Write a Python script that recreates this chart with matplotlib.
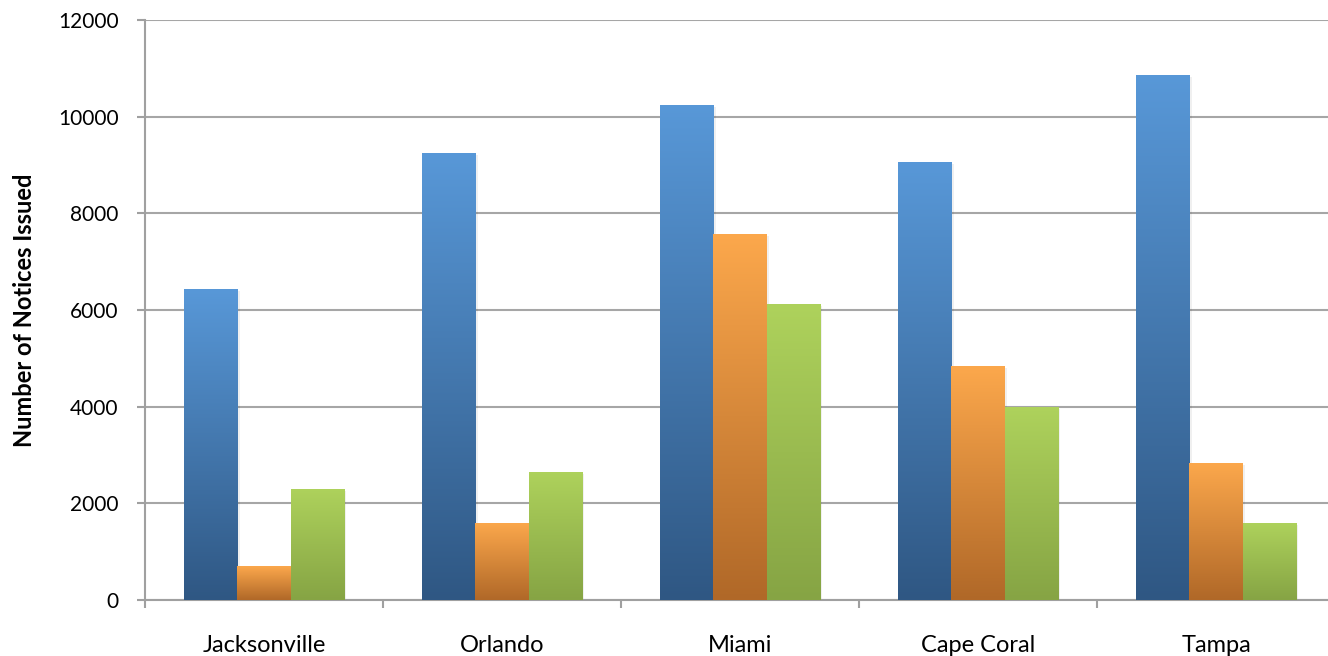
import matplotlib.pyplot as plt
import numpy as np
from matplotlib.colors import LinearSegmentedColormap

plt.rcParams['font.family'] = ['Lato', 'DejaVu Sans']

cities = ['Jacksonville', 'Orlando', 'Miami', 'Cape Coral', 'Tampa']
series_a = [6430, 9250, 10250, 9060, 10860]
series_b = [700, 1600, 7580, 4840, 2840]
series_c = [2300, 2650, 6120, 4000, 1600]
y_ticks = [0, 2000, 4000, 6000, 8000, 10000, 12000]

# top colour, bottom colour for each series
gradients = [('#5898D8', '#2F5783'),
             ('#FCA84C', '#B06828'),
             ('#AED25C', '#86A444')]

fig = plt.figure(figsize=(13.28, 6.56), dpi=100)
ax = fig.add_axes([145 / 1328, 56 / 656, 1190 / 1328, 580 / 656])

bar_w = 0.2227
x = np.arange(len(cities))
grad = np.linspace(1, 0, 256).reshape(-1, 1)

for k, (vals, (c_top, c_bot)) in enumerate(zip([series_a, series_b, series_c], gradients)):
    cmap = LinearSegmentedColormap.from_list('g%d' % k, [c_bot, c_top])
    offs = (k - 1) * bar_w
    bars = ax.bar(x + offs, vals, width=bar_w, color='none', edgecolor='none', zorder=3)
    for b in bars:
        x0, w, h = b.get_x(), b.get_width(), b.get_height()
        # soft drop shadow
        ax.add_patch(plt.Rectangle((x0 + 0.012, 0), w, h - 40, color='#000000',
                                   alpha=0.06, lw=0, zorder=2.5))
        im = ax.imshow(grad, cmap=cmap, aspect='auto', extent=(x0, x0 + w, 0, h),
                       zorder=3, interpolation='bicubic')
        im.set_clip_path(b)

ax.set_xlim(-0.5, 4.5)
ax.set_ylim(0, 12000)
ax.set_yticks(y_ticks)
ax.set_yticklabels([str(v) for v in y_ticks])
ax.set_xticks(x)
ax.set_xticklabels(cities)
ax.set_xticks(np.arange(-0.5, 5, 1), minor=True)

ax.grid(axis='y', color='#A6A6A6', lw=1.5, zorder=1)
for s in ['top', 'right']:
    ax.spines[s].set_visible(False)
for s in ['left', 'bottom']:
    ax.spines[s].set_color('#A0A0A0')
    ax.spines[s].set_linewidth(1.5)

ax.tick_params(axis='y', length=6, width=1.5, color='#A0A0A0', pad=13, labelsize=15)
ax.tick_params(axis='x', which='major', length=0, pad=25, labelsize=17)
ax.tick_params(axis='x', which='minor', length=6, width=1.5, color='#A0A0A0')

ax.set_ylabel('Number of Notices Issued', fontsize=17, fontweight='bold')
ax.yaxis.set_label_coords(-0.092, 0.5)

plt.savefig('out.png', dpi=100, facecolor='white')
